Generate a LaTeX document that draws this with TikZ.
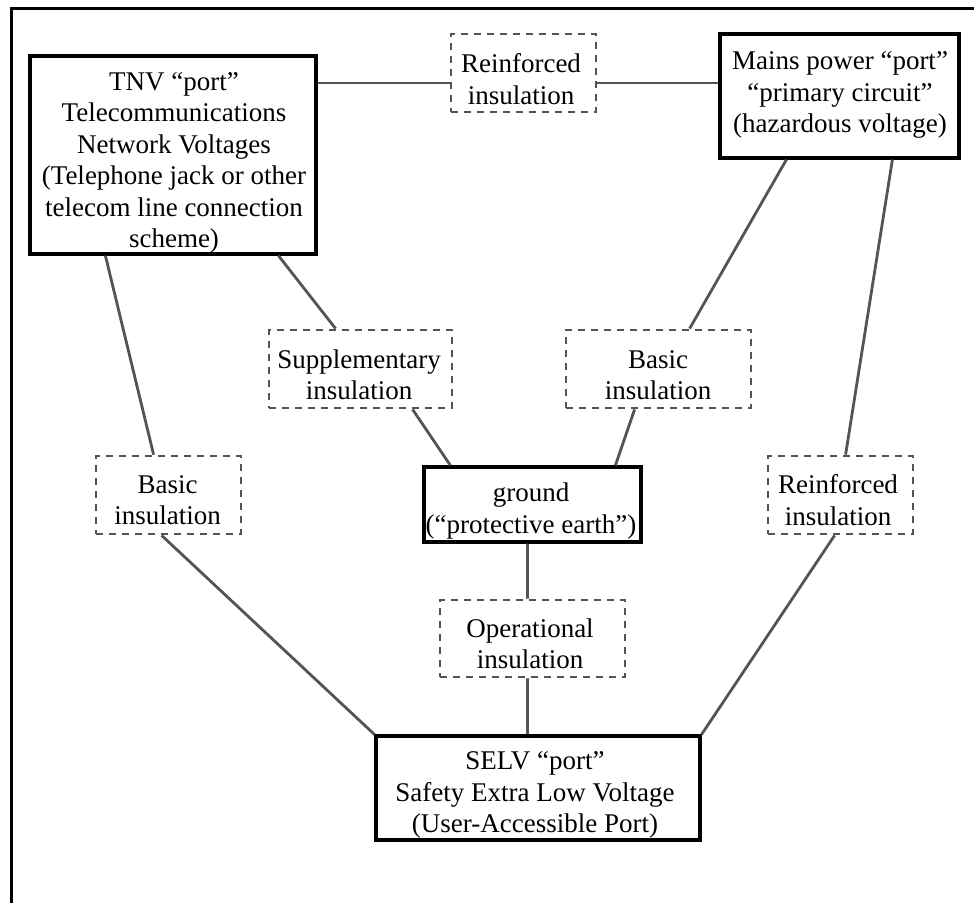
\documentclass[tikz,border=0pt]{standalone}
\usepackage{fontspec}
\setmainfont{Liberation Serif}
\begin{document}
\begin{tikzpicture}[x=1pt,y=-1pt,
  solidbox/.style={draw=black,line width=3.2pt,inner sep=0pt,fill=white},
  dashbox/.style={draw=black!67,line width=2.8pt,dash pattern=on 7pt off 6pt,inner sep=0pt,fill=white},
  txt/.style={align=center,inner sep=0pt,font=\fontsize{27}{31.5}\selectfont},
  conn/.style={draw=black!67,line width=2.8pt},
  frame/.style={draw=black,line width=3pt}]
\useasboundingbox (0,0) rectangle (974,903);
\draw[frame] (11,903) -- (11,8) -- (974,8);
\coordinate (h1) at (0,83);
% boxes
\node[solidbox,minimum width=286,minimum height=198] (tnv) at (173,155) {};
\node[dashbox,minimum width=145,minimum height=78] (r1) at (523.5,73) {};
\node[solidbox,minimum width=239,minimum height=124] (mains) at (839.5,96) {};
\node[dashbox,minimum width=183,minimum height=78] (supp) at (360.5,369) {};
\node[dashbox,minimum width=185,minimum height=78] (br) at (658.5,369) {};
\node[dashbox,minimum width=145,minimum height=78] (bl) at (168.5,495) {};
\node[solidbox,minimum width=217,minimum height=75] (gnd) at (532.5,504.5) {};
\node[dashbox,minimum width=145,minimum height=78] (rr) at (840.5,495) {};
\node[dashbox,minimum width=185,minimum height=77] (op) at (532.5,638.5) {};
\node[solidbox,minimum width=324,minimum height=104] (selv) at (538,788) {};
% texts
\node[txt] (tnvt) at (174,163) {TNV “port”\\Telecommunications\\Network Voltages\\(Telephone jack or other\\telecom line connection\\scheme)};
\node[txt] (r1t) at (521,79) {Reinforced\\insulation};
\node[txt] (mainst) at (840,95) {Mains power “port”\\“primary circuit”\\(hazardous voltage)};
\node[txt] (suppt) at (359,375) {Supplementary\\insulation};
\node[txt] (brt) at (658,375) {Basic\\insulation};
\node[txt] (blt) at (167.5,500) {Basic\\insulation};
\node[txt] (gndt) at (531,511) {ground\\(“protective earth”)};
\node[txt] (rrt) at (838,500) {Reinforced\\insulation};
\node[txt] (opt) at (530,644) {Operational\\insulation};
\node[txt] (selvt) at (535,795) {SELV “port”\\Safety Extra Low Voltage\\(User-Accessible Port)};
% connectors
\draw[conn] (tnv.east |- h1) -- (r1.west |- h1);
\draw[conn] (r1.east |- h1) -- (mains.west |- h1);
\draw[conn] ([xshift=77pt]tnv.south west) -- ([xshift=59pt]bl.north west);
\draw[conn] ([xshift=250pt]tnv.south west) -- ([xshift=68pt]supp.north west);
\draw[conn] ([xshift=145pt]supp.south west) -- ([xshift=28pt]gnd.north west);
\draw[conn] ([xshift=68pt]mains.south west) -- ([xshift=125pt]br.north west);
\draw[conn] ([xshift=70pt]br.south west) -- ([xshift=193pt]gnd.north west);
\draw[conn] ([xshift=174pt]mains.south west) -- ([xshift=79pt]rr.north west);
\draw[conn] ([xshift=68pt]rr.south west) -- (selv.north east);
\draw[conn] ([xshift=67pt]bl.south west) -- (selv.north west);
\draw[conn] ([xshift=105pt]gnd.south west) -- ([xshift=89pt]op.north west);
\draw[conn] ([xshift=89pt]op.south west) -- ([xshift=153pt]selv.north west);
\end{tikzpicture}
\end{document}
